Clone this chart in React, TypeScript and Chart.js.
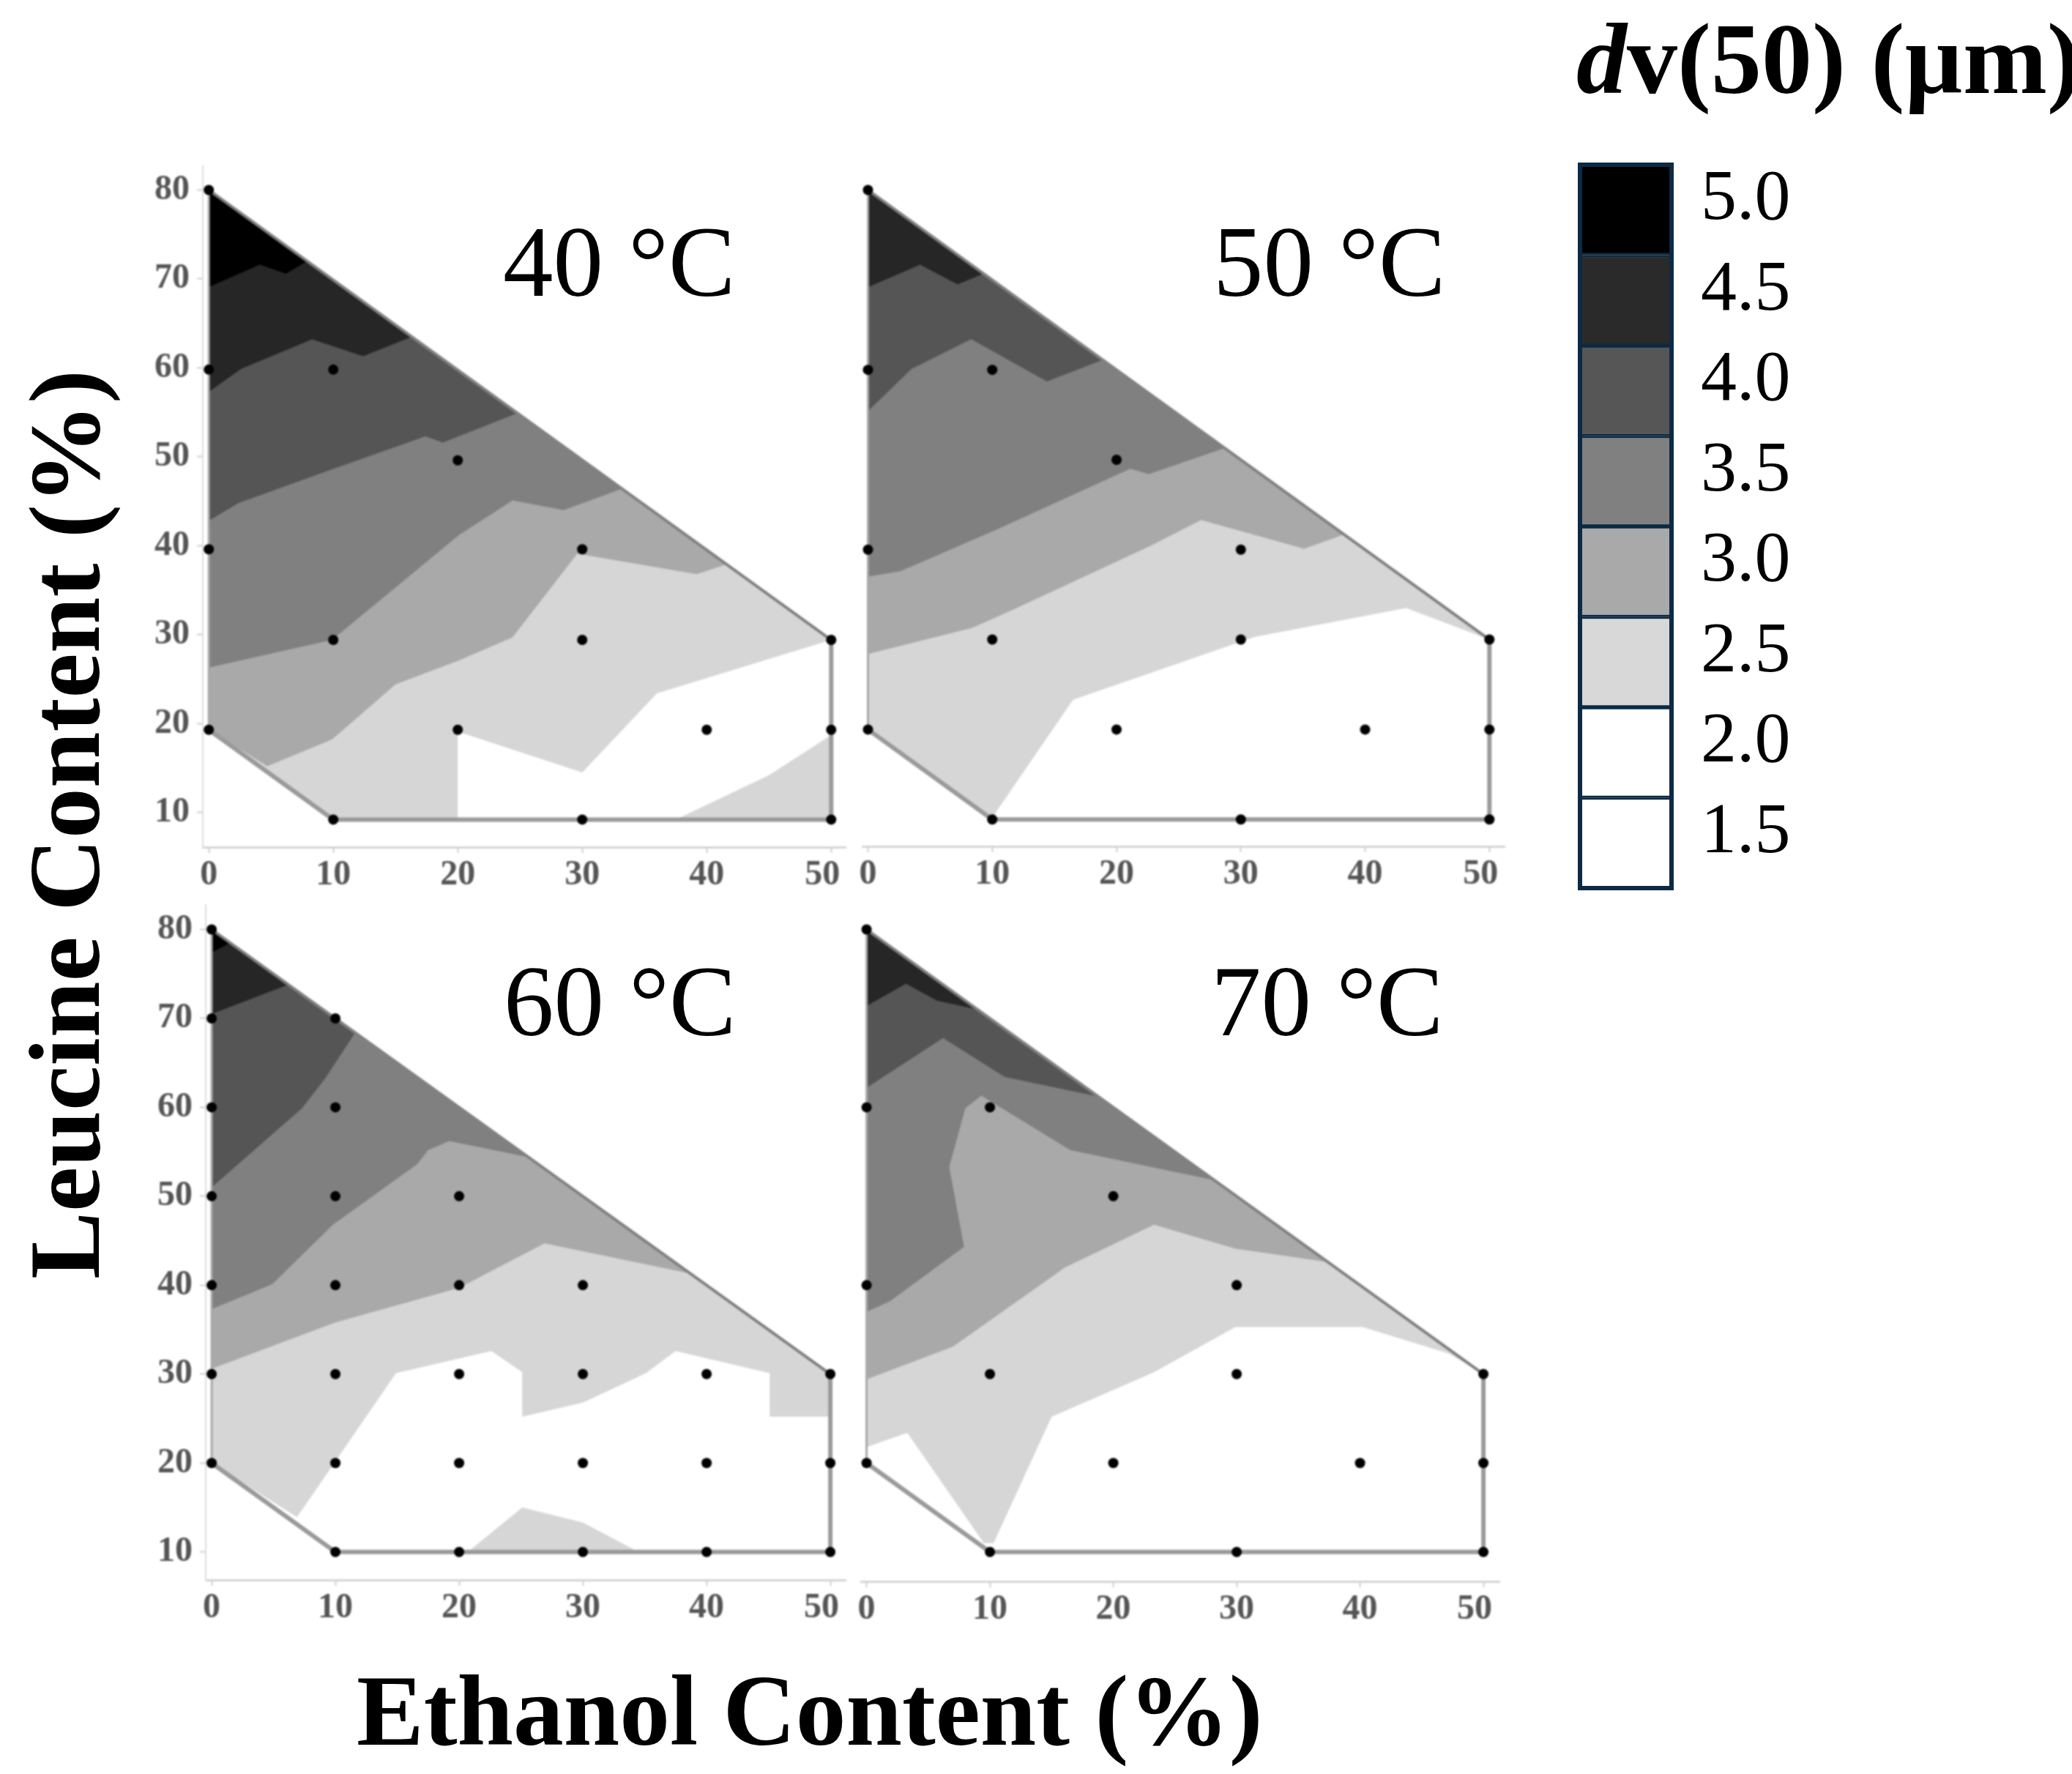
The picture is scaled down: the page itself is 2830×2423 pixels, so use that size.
import React, { useEffect, useRef } from "react";
import { Chart, registerables } from "chart.js";

Chart.register(...registerables);

type Pair = [number, number];

const bandColors = ["#000000", "#262626", "#555555", "#808080", "#a9a9a9", "#d6d6d6"];
const xTicks = { min: 0, max: 50, step: 10 };
const legendLevels = ["5.0", "4.5", "4.0", "3.5", "3.0", "2.5", "2.0", "1.5"];
const legendColors = ["#000000", "#2a2a2a", "#565656", "#808080", "#a9a9a9", "#d8d8d8", "#ffffff", "#ffffff"];

// ---- 40 °C ----
const hull40: Pair[] = [[0, 80], [50, 29.4], [50, 9.2], [10, 9.2], [0, 19.3], [0, 80]];
const dots40: Pair[] = [[0, 80], [0, 59.8], [0, 39.6], [0, 19.3], [10, 59.8], [20, 49.6], [30, 39.6], [10, 29.4], [30, 29.4], [50, 29.4], [20, 19.3], [40, 19.3], [50, 19.3], [10, 9.2], [30, 9.2], [50, 9.2]];
const band40_50: Pair[] = [[0, 80], [7.9, 72], [6.2, 70.6], [4.1, 71.6], [0, 69.1]];
const band40_45: Pair[] = [[0, 80], [16.3, 63.5], [12.4, 61.3], [8.3, 63.2], [2.6, 59.9], [0, 57.3]];
const band40_40: Pair[] = [[0, 80], [24.8, 54.9], [18.8, 51.6], [17.4, 52.3], [9.9, 48.6], [2.4, 44.8], [0, 42.8]];
const band40_35: Pair[] = [[0, 80], [33.2, 46.4], [28.5, 44], [24.4, 45.1], [20.1, 41.2], [9.9, 29.4], [0, 26.3]];
const band40_30: Pair[] = [[0, 80], [41.6, 37.9], [39.2, 36.8], [29.6, 39.1], [24.4, 29.7], [20.1, 27.1], [15, 24.4], [9.9, 18.2], [4.7, 15.2], [0, 19.3]];
const band40_25a: Pair[] = [[0, 80], [50, 29.4], [36, 23.4], [30, 14.5], [20, 19.1], [20, 9.2], [10, 9.2], [0, 19.3]];
const band40_25b: Pair[] = [[37.5, 9.2], [45, 14.2], [50, 18.7], [50, 9.2]];

// ---- 50 °C ----
const hull50: Pair[] = [[0, 80], [50, 30], [50, 10], [10, 10], [0, 20], [0, 80]];
const dots50: Pair[] = [[0, 80], [0, 60], [0, 40], [0, 20], [10, 60], [20, 50], [30, 40], [10, 30], [30, 30], [50, 30], [20, 20], [40, 20], [50, 20], [10, 10], [30, 10], [50, 10]];
const band50_45: Pair[] = [[0, 80], [9.3, 70.7], [7.2, 69.5], [4.2, 71.7], [0, 69.2]];
const band50_40: Pair[] = [[0, 80], [18.9, 61.1], [14.4, 58.7], [8.3, 63.4], [3.5, 60.1], [0, 55.4]];
const band50_35: Pair[] = [[0, 80], [28.7, 51.3], [22.6, 48.4], [21.1, 49], [10.3, 42.2], [2.6, 37.6], [0, 37]];
const band50_30: Pair[] = [[0, 80], [38.3, 41.7], [35.1, 40.1], [26.8, 43.3], [22.7, 40.4], [11.8, 33.4], [8.4, 31.3], [0, 28.4]];
const band50_25: Pair[] = [[0, 80], [50, 30], [43.3, 33.5], [31.1, 30.3], [16.5, 23.3], [10.3, 10.8], [10, 10], [0, 20]];

// ---- 60 °C ----
const hull60: Pair[] = [[0, 80], [50, 30], [50, 10], [10, 10], [0, 20], [0, 80]];
const dots60: Pair[] = [[0, 80], [0, 70], [0, 60], [0, 50], [0, 40], [0, 30], [0, 20], [10, 70], [10, 60], [10, 50], [10, 40], [10, 30], [10, 20], [10, 10], [20, 50], [20, 40], [20, 30], [20, 20], [20, 10], [30, 40], [30, 30], [30, 20], [30, 10], [40, 30], [40, 20], [40, 10], [50, 30], [50, 20], [50, 10]];
const band60_50: Pair[] = [[0, 80], [1.5, 78.5], [0, 77.4]];
const band60_45: Pair[] = [[0, 80], [6.2, 73.8], [0, 70.5]];
const band60_40: Pair[] = [[0, 80], [11.6, 68.4], [9.2, 63.3], [7.3, 59.9], [0, 51]];
const band60_35: Pair[] = [[0, 80], [25.6, 54.4], [19.2, 56.2], [17.5, 55.2], [16.6, 53.6], [9.8, 46.8], [4.9, 40.1], [0, 37.3]];
const band60_30: Pair[] = [[0, 80], [38.7, 41.3], [26.9, 44.7], [20, 39.7], [10, 35.8], [0, 30.6]];
const band60_25a: Pair[] = [[0, 80], [50, 30], [50, 25.2], [45.1, 25.2], [45.1, 30.1], [37.5, 32.6], [35.1, 30.1], [30, 26.8], [25.1, 25.2], [25.1, 30.2], [22.6, 32.6], [14.9, 30.1], [6.9, 13.9], [0, 20]];
const band60_25b: Pair[] = [[20.7, 10], [25.1, 15], [30, 13.3], [34.5, 10]];

// ---- 70 °C ----
const hull70: Pair[] = [[0, 80], [50, 30], [50, 10], [10, 10], [0, 20], [0, 80]];
const dots70: Pair[] = [[0, 80], [0, 60], [0, 40], [0, 20], [10, 60], [20, 50], [30, 40], [10, 30], [30, 30], [50, 30], [20, 20], [40, 20], [50, 20], [10, 10], [30, 10], [50, 10]];
const band70_45: Pair[] = [[0, 80], [9, 71], [5.7, 72], [3.2, 73.9], [0, 71.4]];
const band70_40: Pair[] = [[0, 80], [18.8, 61.2], [11.2, 63.4], [6.2, 67.8], [0, 62.2]];
const band70_35: Pair[] = [[0, 80], [28.2, 51.8], [16.5, 55.2], [9.3, 61.3], [8, 59.9], [6.7, 53.3], [7.9, 44.3], [1.9, 38.2], [0, 37]];
const band70_30: Pair[] = [[0, 80], [37.4, 42.6], [29.9, 44.1], [23.3, 46.8], [16.1, 42], [7, 33.1], [0, 29.4]];
const band70_25: Pair[] = [[0, 80], [50, 30], [47.2, 32.3], [40.2, 35.3], [29.9, 35.3], [23.3, 30.2], [15, 25.2], [10.3, 11], [9.5, 11], [3.3, 23.4], [0, 21.8]];

const LEVEL_COLOR = { l50: bandColors[0], l45: bandColors[1], l40: bandColors[2], l35: bandColors[3], l30: bandColors[4], l25: bandColors[5] };

const panels = [
  {
    key: "p40", hull: hull40, dots: dots40, showY: true,
    bands: [[band40_50, LEVEL_COLOR.l50], [band40_45, LEVEL_COLOR.l45], [band40_40, LEVEL_COLOR.l40], [band40_35, LEVEL_COLOR.l35], [band40_30, LEVEL_COLOR.l30], [band40_25a, LEVEL_COLOR.l25], [band40_25b, LEVEL_COLOR.l25]],
    px: { left: 277, right: 1155, top: 227, bottom: 1157, x0: 285.2, x50: 1135.3, y80: 259.5, y10: 1109.7 },
  },
  {
    key: "p50", hull: hull50, dots: dots50, showY: false,
    bands: [[band50_45, LEVEL_COLOR.l45], [band50_40, LEVEL_COLOR.l40], [band50_35, LEVEL_COLOR.l35], [band50_30, LEVEL_COLOR.l30], [band50_25, LEVEL_COLOR.l25]],
    px: { left: 1178, right: 2055, top: 227, bottom: 1156, x0: 1185.5, x50: 2034.3, y80: 259.5, y10: 1119.2 },
  },
  {
    key: "p60", hull: hull60, dots: dots60, showY: true,
    bands: [[band60_50, LEVEL_COLOR.l50], [band60_45, LEVEL_COLOR.l45], [band60_40, LEVEL_COLOR.l40], [band60_35, LEVEL_COLOR.l35], [band60_30, LEVEL_COLOR.l30], [band60_25a, LEVEL_COLOR.l25], [band60_25b, LEVEL_COLOR.l25]],
    px: { left: 281, right: 1155, top: 1236, bottom: 2158, x0: 289.1, x50: 1134.1, y80: 1269.5, y10: 2119.7 },
  },
  {
    key: "p70", hull: hull70, dots: dots70, showY: false,
    bands: [[band70_45, LEVEL_COLOR.l45], [band70_40, LEVEL_COLOR.l40], [band70_35, LEVEL_COLOR.l35], [band70_30, LEVEL_COLOR.l30], [band70_25, LEVEL_COLOR.l25]],
    px: { left: 1176, right: 2048, top: 1236, bottom: 2160, x0: 1183.6, x50: 2026.1, y80: 1269.5, y10: 2119.7 },
  },
] as const;

const SERIF = '"Liberation Serif", "Times New Roman", serif';
const Y_W = 100;
const X_H = 70;
const PAD_R = 40;
const PAD_T = 10;

const toXY = (rows: readonly Pair[]) => rows.map(([x, y]) => ({ x, y }));

function Panel({ cfg }: { cfg: any }) {
  const ref = useRef<HTMLCanvasElement>(null);
  const { px } = cfg;
  const areaW = px.right - px.left;
  const areaH = px.bottom - px.top;
  const w = Y_W + areaW + PAD_R;
  const h = PAD_T + areaH + X_H;

  useEffect(() => {
    const xUnit = (px.x50 - px.x0) / 50;
    const yUnit = (px.y10 - px.y80) / 70;
    const xMin = (px.left - px.x0) / xUnit;
    const xMax = (px.right - px.x0) / xUnit;
    const yMax = 80 + (px.y80 - px.top) / yUnit;
    const yMin = 80 - (px.bottom - px.y80) / yUnit;

    const isLeft = (ctx: any) => ctx.p0.parsed.x === 0 && ctx.p1.parsed.x === 0;
    const isDiag = (ctx: any) => ctx.p0.parsed.y === 80;

    const chart = new Chart(ref.current as HTMLCanvasElement, {
      type: "line",
      data: {
        datasets: [
          {
            label: "samples",
            data: toXY(cfg.dots),
            showLine: false,
            pointRadius: 7,
            pointHoverRadius: 7,
            pointBackgroundColor: "#000",
            pointBorderWidth: 0,
            clip: false,
          },
          {
            label: "boundary",
            data: toXY(cfg.hull),
            borderColor: "#999",
            borderWidth: 5,
            pointRadius: 0,
            tension: 0,
            fill: false,
            clip: false,
            segment: {
              borderColor: (ctx: any) => (isLeft(ctx) ? "#a8a8a8" : isDiag(ctx) ? "#808080" : "#9a9a9a"),
              borderWidth: (ctx: any) => (isLeft(ctx) ? 3 : isDiag(ctx) ? 4 : 6),
            },
          },
          ...cfg.bands.map(([rows, color]: [Pair[], string], i: number) => ({
            label: "band" + i,
            data: toXY(rows),
            backgroundColor: color,
            borderColor: "rgba(0,0,0,0)",
            borderWidth: 0,
            pointRadius: 0,
            tension: 0,
            fill: "shape",
            clip: false,
          })),
        ],
      },
      options: {
        animation: false,
        responsive: false,
        layout: {
          autoPadding: false,
          padding: { left: 0, right: PAD_R, top: PAD_T, bottom: 0 },
        },
        plugins: { legend: { display: false }, tooltip: { enabled: false } },
        scales: {
          x: {
            type: "linear",
            min: xMin,
            max: xMax,
            afterFit: (s: any) => { s.height = X_H; s.paddingLeft = 0; s.paddingRight = 0; },
            border: { color: "#d4d4d4", width: 3 },
            grid: { display: true, drawOnChartArea: false, drawTicks: true, tickLength: 8, tickColor: "#cfcfcf", tickWidth: 2 },
            ticks: {
              stepSize: xTicks.step,
              includeBounds: false,
              autoSkip: false,
              maxRotation: 0,
              padding: 2,
              color: "#555",
              font: { family: SERIF, size: 48, weight: "bold" },
              callback: (v: number) => (v === xTicks.max ? v + "  " : String(v)),
            },
          },
          y: {
            type: "linear",
            display: cfg.showY,
            min: yMin,
            max: yMax,
            afterFit: (s: any) => { s.width = Y_W; s.paddingTop = 0; s.paddingBottom = 0; },
            border: { color: "#dddddd", width: 2 },
            grid: { display: true, drawOnChartArea: false, drawTicks: true, tickLength: 8, tickColor: "#cfcfcf", tickWidth: 2 },
            ticks: {
              stepSize: 10,
              includeBounds: false,
              autoSkip: false,
              padding: 10,
              color: "#555",
              font: { family: SERIF, size: 48, weight: "bold" },
            },
          },
        },
      },
    } as any);
    return () => chart.destroy();
  }, []);

  return (
    <canvas
      ref={ref}
      width={w}
      height={h}
      style={{ position: "absolute", left: px.left - Y_W, top: px.top - PAD_T, width: w, height: h, filter: "blur(0.8px)" }}
    />
  );
}

const legendFrame = {
  id: "legendFrame",
  afterDraw(chart: any) {
    const { ctx, chartArea: a } = chart;
    ctx.save();
    ctx.strokeStyle = "#0c2a44";
    ctx.lineWidth = 6;
    ctx.strokeRect(a.left, a.top, a.right - a.left, a.bottom - a.top);
    ctx.restore();
  },
};

function LegendScale() {
  const ref = useRef<HTMLCanvasElement>(null);
  const box = { left: 2158, right: 2283, top: 225, bottom: 1213 };
  const PAD = 10;
  const LABEL_W = 190;
  const w = box.right - box.left + PAD + LABEL_W;
  const h = box.bottom - box.top + 2 * PAD;

  useEffect(() => {
    const chart = new Chart(ref.current as HTMLCanvasElement, {
      type: "bar",
      data: {
        labels: legendLevels,
        datasets: [
          {
            data: legendLevels.map(() => 1),
            backgroundColor: legendColors,
            borderColor: "#0c2a44",
            borderWidth: 3,
            barPercentage: 1,
            categoryPercentage: 1,
          },
        ],
      },
      options: {
        indexAxis: "y",
        animation: false,
        responsive: false,
        layout: { autoPadding: false, padding: { left: PAD, right: 0, top: PAD, bottom: PAD } },
        plugins: { legend: { display: false }, tooltip: { enabled: false } },
        scales: {
          x: { display: false, min: 0, max: 1 },
          y: {
            position: "right",
            afterFit: (s: any) => { s.width = LABEL_W; s.paddingTop = 0; s.paddingBottom = 0; },
            border: { display: false },
            grid: { display: false },
            ticks: {
              padding: 32,
              labelOffset: -13,
              color: "#000",
              font: { family: SERIF, size: 98, weight: "normal" },
            },
          },
        },
      },
      plugins: [legendFrame],
    } as any);
    return () => chart.destroy();
  }, []);

  return (
    <canvas
      ref={ref}
      width={w}
      height={h}
      style={{ position: "absolute", left: box.left - PAD, top: box.top - PAD, width: w, height: h, filter: "blur(0.6px)" }}
    />
  );
}

function Label({ x, base, size, bold, children, rotate }: any) {
  const offset = 0.8375 * size;
  const style: React.CSSProperties = {
    position: "absolute",
    fontFamily: SERIF,
    fontSize: size,
    lineHeight: 1,
    fontWeight: bold ? 700 : 400,
    color: "#000",
    whiteSpace: "pre",
    left: rotate ? base - offset : x,
    top: rotate ? x : base - offset,
    transformOrigin: "0 0",
    transform: rotate ? "rotate(-90deg)" : undefined,
    filter: "blur(0.5px)",
  };
  return <div style={style}>{children}</div>;
}

export default function App() {
  return (
    <div style={{ position: "absolute", left: 0, top: 0, width: 2830, height: 2423, overflow: "hidden", background: "#fff" }}>
      {panels.map((p) => (
        <Panel key={p.key} cfg={p} />
      ))}
      <LegendScale />
      <Label x={687} base={405} size={137}>40 °C</Label>
      <Label x={1657} base={405} size={137}>50 °C</Label>
      <Label x={688} base={1415} size={137}>60 °C</Label>
      <Label x={1654} base={1415} size={137}>70 °C</Label>
      <Label x={1747} base={136} size={138} bold rotate>Leucine Content (%)</Label>
      <Label x={487} base={2383} size={137.5} bold>Ethanol Content (%)</Label>
      <Label x={2153} base={128} size={138} bold><i>d</i>v(50) (µm)</Label>
    </div>
  );
}
